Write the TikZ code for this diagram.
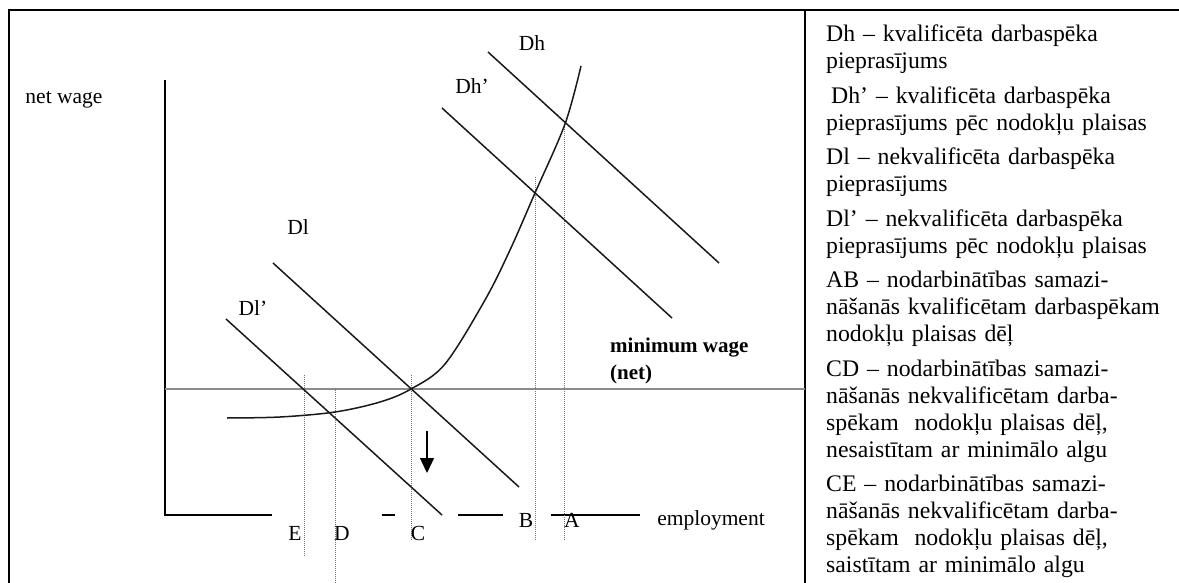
\documentclass[tikz,border=0pt]{standalone}
\usepackage{fontspec}
\setmainfont{Liberation Serif}
\usetikzlibrary{arrows.meta,positioning}

\begin{document}
\begin{tikzpicture}[
  x=1pt,y=-1pt,
  axis/.style={line width=1.5pt,black},
  demand/.style={line width=1.5pt,black!90},
  guide/.style={dash pattern=on 1pt off 1pt,line width=1pt,black!55},
  lab/.style={font=\fontsize{21.5}{24}\selectfont,inner sep=0pt},
  legend/.style={font=\fontsize{23.75}{27}\selectfont,text width=352pt,align=left,
                 inner sep=0pt,anchor=base west}
]
  \useasboundingbox (0,0) rectangle (1179,583);
  \clip (0,0) rectangle (1179,583);
  % frame of the table
  \draw[line width=2.2pt] (9,600) |- (1200,10);
  \draw[line width=1.8pt] (805,10) -- (805,600);

  % axes
  \coordinate (O) at (165,515);
  \coordinate (ytop) at (165,80);
  \draw[axis] (ytop) -- (O) -- (272,515);
  \draw[axis] (382,515) -- (395,515);
  \draw[axis] (458,515) -- (503,515);
  \draw[axis] (551,515) -- (640,515);
  \coordinate (mwL) at (165,389);
  \coordinate (mwR) at (805,389);
  \draw[line width=2.6pt,black!45] (mwL) -- (mwR);

  % guide lines to the axis
  \draw[guide] (304,375) -- (304,556);
  \draw[guide] (335,388) -- (335,590);
  \draw[guide] (411,375) -- (411,541);
  \draw[guide] (535,177) -- (535,541);
  \draw[guide] (564,127) -- (564,541);

  % demand lines
  \coordinate (Dh1) at (488,52);   \coordinate (Dh2) at (719,263);
  \coordinate (Dhp1) at (442,108); \coordinate (Dhp2) at (672,318);
  \coordinate (Dl1) at (273,263);  \coordinate (Dl2) at (519,487);
  \coordinate (Dlp1) at (226,319); \coordinate (Dlp2) at (442,515);
  \draw[demand] (Dh1) -- (Dh2);
  \draw[demand] (Dhp1) -- (Dhp2);
  \draw[demand] (Dl1) -- (Dl2);
  \draw[demand] (Dlp1) -- (Dlp2);

  % supply curve
  \draw[demand] plot[smooth,tension=0.55] coordinates {(227,418) (280,417)
    (335,412) (380,402) (411,389) (445,364) (485,300) (510,250) (535,193)
    (565,124) (581,66)};

  % shift of the minimum wage
  \coordinate (arrS) at (427,431);
  \coordinate (arrE) at (427,473);
  \draw[line width=1.4pt,-{Triangle[length=15pt,width=14pt]}] (arrS) -- (arrE);

  % labels
  \node[lab] (netwage) at (64,100) {net wage};
  \node[lab] (lDh) at (532,43) {Dh};
  \node[lab] (lDhp) at (472,86) {Dh’};
  \node[lab] (lDl) at (298,227) {Dl};
  \node[lab] (lDlp) at (253,308) {Dl’};
  \node[lab] (lE) at (295,533) {E};
  \node[lab] (lD) at (342,533) {D};
  \node[lab] (lC) at (418,533) {C};
  \node[lab] (lB) at (526,520) {B};
  \node[lab] (lA) at (572,520) {A};
  \node[lab] (lemp) at (711,520) {employment};
  \node[lab,font=\fontsize{21}{27}\selectfont\bfseries,align=left,anchor=west]
    (minw) at (610,361) {minimum wage\\(net)};

  % legend
  \node[legend] (lgDh) at (826,42)
    {\strut Dh – kvalificēta darbaspēka\\pieprasījums\strut};
  \node[legend,below=7pt of lgDh.south west,anchor=north west] (lgDhp)
    {\strut\hspace{5pt}Dh’ – kvalificēta darbaspēka\\pieprasījums pēc nodokļu plaisas\strut};
  \node[legend,below=7pt of lgDhp.south west,anchor=north west] (lgDl)
    {\strut Dl – nekvalificēta darbaspēka\\pieprasījums\strut};
  \node[legend,below=7pt of lgDl.south west,anchor=north west] (lgDlp)
    {\strut Dl’ – nekvalificēta darbaspēka\\pieprasījums pēc nodokļu plaisas\strut};
  \node[legend,below=7pt of lgDlp.south west,anchor=north west] (lgAB)
    {\strut AB – nodarbinātības samazi-\\nāšanās kvalificētam darbaspēkam\\nodokļu plaisas dēļ\strut};
  \node[legend,below=7pt of lgAB.south west,anchor=north west] (lgCD)
    {\strut CD – nodarbinātības samazi-\\nāšanās nekvalificētam darba-\\spēkam\ \ nodokļu plaisas dēļ,\\nesaistītam ar minimālo algu\strut};
  \node[legend,below=7pt of lgCD.south west,anchor=north west] (lgCE)
    {\strut CE – nodarbinātības samazi-\\nāšanās nekvalificētam darba-\\spēkam\ \ nodokļu plaisas dēļ,\\saistītam ar minimālo algu\strut};
\end{tikzpicture}
\end{document}
